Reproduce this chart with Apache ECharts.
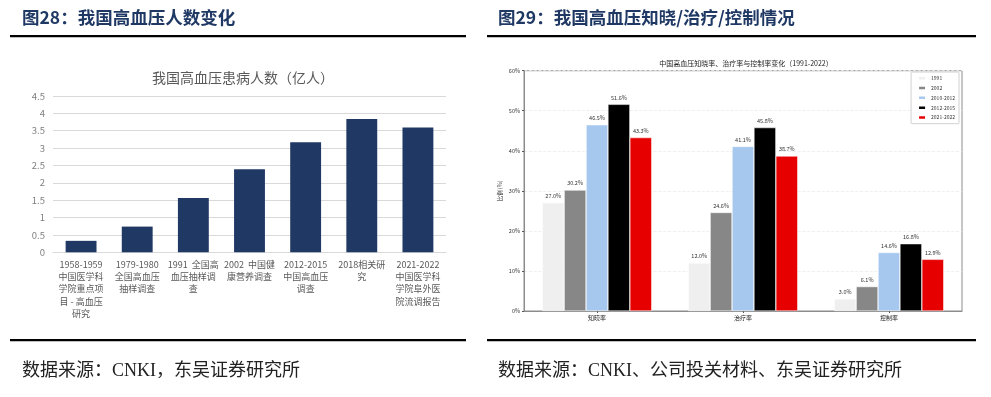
<!DOCTYPE html>
<html><head><meta charset="utf-8">
<script src="https://cdn.jsdelivr.net/npm/echarts@6/dist/echarts.min.js"></script>
<style>html,body{margin:0;padding:0;background:#fff;}#c{width:991px;height:397px;}</style>
</head><body><div id="c"></div>
<script>
// Left chart data
const leftCategories = [
  '1958-1959\n中国医学科\n学院重点项\n目 - 高血压\n研究',
  '1979-1980\n全国高血压\n抽样调查',
  '1991  全国高\n血压抽样调\n查',
  '2002  中国健\n康营养调查',
  '2012-2015\n中国高血压\n调查',
  '2018相关研\n究',
  '2021-2022\n中国医学科\n学院阜外医\n院流调报告'
];
const leftValues = [0.33, 0.74, 1.56, 2.39, 3.17, 3.84, 3.59];

// Right chart data
const rightCategories = ['知晓率', '治疗率', '控制率'];
const rightSeriesNames = ['1991', '2002', '2010-2012', '2012-2015', '2021-2022'];
const rate1991 = [27.0, 12.0, 3.0];
const rate2002 = [30.2, 24.6, 6.1];
const rate2010 = [46.5, 41.1, 14.6];
const rate2012 = [51.6, 45.8, 16.8];
const rate2021 = [43.3, 38.7, 12.9];
const rightColors = ['#efefef', '#878787', '#a6c8ee', '#000000', '#e60000'];

const chart = echarts.init(document.getElementById('c'), null, {renderer: 'canvas'});
const CJK = '"Noto Sans CJK SC", "Noto Sans", sans-serif';
const SERIF = '"Liberation Serif", "Noto Sans CJK SC", serif';

const rightData = [rate1991, rate2002, rate2010, rate2012, rate2021];
const rightSeries = rightData.map((d, i) => ({
  name: rightSeriesNames[i],
  type: 'bar',
  xAxisIndex: 1, yAxisIndex: 1,
  data: d,
  barGap: '0%',
  barCategoryGap: '25%',
  itemStyle: {color: rightColors[i], borderColor: '#ffffff', borderWidth: 0.5},
  label: {show: true, position: 'top', distance: 4, fontSize: 5.5, color: '#333', fontFamily: CJK,
    formatter: p => p.value.toFixed(1) + '%'}
}));

chart.setOption({
  animation: false,
  textStyle: {fontFamily: CJK},
  title: [
    {text: '我国高血压患病人数（亿人）', left: 238, top: 66, textAlign: 'center',
      textStyle: {fontSize: 14, fontWeight: 'normal', color: '#595959', fontFamily: CJK}},
    {text: '中国高血压知晓率、治疗率与控制率变化（1991-2022）', left: 741, top: 55, textAlign: 'center',
      textStyle: {fontSize: 7, fontWeight: 'normal', color: '#222', fontFamily: CJK}}
  ],
  graphic: [
    {type: 'text', left: 22, top: 9, style: {text: '图28：我国高血压人数变化', font: 'bold 17.5px ' + CJK, fill: '#1f3864'}},
    {type: 'text', left: 498, top: 9, style: {text: '图29：我国高血压知晓/治疗/控制情况', font: 'bold 17.5px ' + CJK, fill: '#1f3864'}},
    {type: 'rect', shape: {x: 10, y: 35, width: 456, height: 2.2}, style: {fill: '#000'}},
    {type: 'rect', shape: {x: 487, y: 35, width: 489, height: 2.2}, style: {fill: '#000'}},
    {type: 'rect', shape: {x: 10, y: 339, width: 456, height: 2.2}, style: {fill: '#000'}},
    {type: 'rect', shape: {x: 487, y: 339, width: 489, height: 2.2}, style: {fill: '#000'}},
    {type: 'text', left: 22, top: 362, style: {text: '数据来源：CNKI，东吴证券研究所', font: '18px ' + SERIF, fill: '#222'}},
    {type: 'text', left: 498, top: 362, style: {text: '数据来源：CNKI、公司投关材料、东吴证券研究所', font: '18px ' + SERIF, fill: '#222'}}
  ],
  legend: {
    data: rightSeriesNames,
    orient: 'vertical',
    right: 32, top: 72,
    itemWidth: 8, itemHeight: 4.5, itemGap: 3.3,
    padding: [3, 4, 3, 6],
    borderColor: '#d0d0d0', borderWidth: 1, borderRadius: 1,
    backgroundColor: '#fff',
    textStyle: {fontSize: 5, color: '#333', fontFamily: CJK},
    icon: 'rect'
  },
  grid: [
    {left: 53, right: 545, top: 96, bottom: 144.7},
    {left: 524, right: 29, top: 70.7, bottom: 86, show: true, borderColor: '#8c8c8c', borderWidth: 1}
  ],
  xAxis: [
    {type: 'category', gridIndex: 0, data: leftCategories,
      axisLine: {show: true, lineStyle: {color: '#d9d9d9'}},
      axisTick: {show: false},
      axisLabel: {interval: 0, fontSize: 9, color: '#595959', lineHeight: 12.3, margin: 6, fontFamily: CJK}},
    {type: 'category', gridIndex: 1, data: rightCategories,
      axisLine: {show: true, lineStyle: {color: '#8c8c8c'}},
      axisTick: {show: true, alignWithLabel: true, length: 2, lineStyle: {color: '#555'}},
      axisLabel: {fontSize: 6, color: '#222', margin: 4, fontFamily: CJK}}
  ],
  yAxis: [
    {type: 'value', gridIndex: 0, min: 0, max: 4.5, interval: 0.5,
      axisLine: {show: false}, axisTick: {show: false},
      axisLabel: {fontSize: 9.5, color: '#7f7f7f', margin: 8, fontFamily: CJK},
      splitLine: {lineStyle: {color: '#d9d9d9', width: 1}}},
    {type: 'value', gridIndex: 1, min: 0, max: 60, interval: 10,
      name: '比例 (%)', nameLocation: 'middle', nameGap: 21, nameRotate: 90,
      nameTextStyle: {fontSize: 5.5, color: '#222', fontFamily: CJK},
      axisLine: {show: true, lineStyle: {color: '#8c8c8c'}},
      axisTick: {show: true, length: 2, lineStyle: {color: '#555'}},
      axisLabel: {fontSize: 5.5, color: '#333', margin: 4, formatter: '{value}%', fontFamily: CJK},
      splitLine: {lineStyle: {color: '#ececec', width: 0.8, type: 'dashed'}}}
  ],
  series: [
    {name: '患病人数', type: 'bar', xAxisIndex: 0, yAxisIndex: 0, data: leftValues,
      barCategoryGap: '45%', itemStyle: {color: '#203864'}},
    ...rightSeries
  ]
});
</script></body></html>
